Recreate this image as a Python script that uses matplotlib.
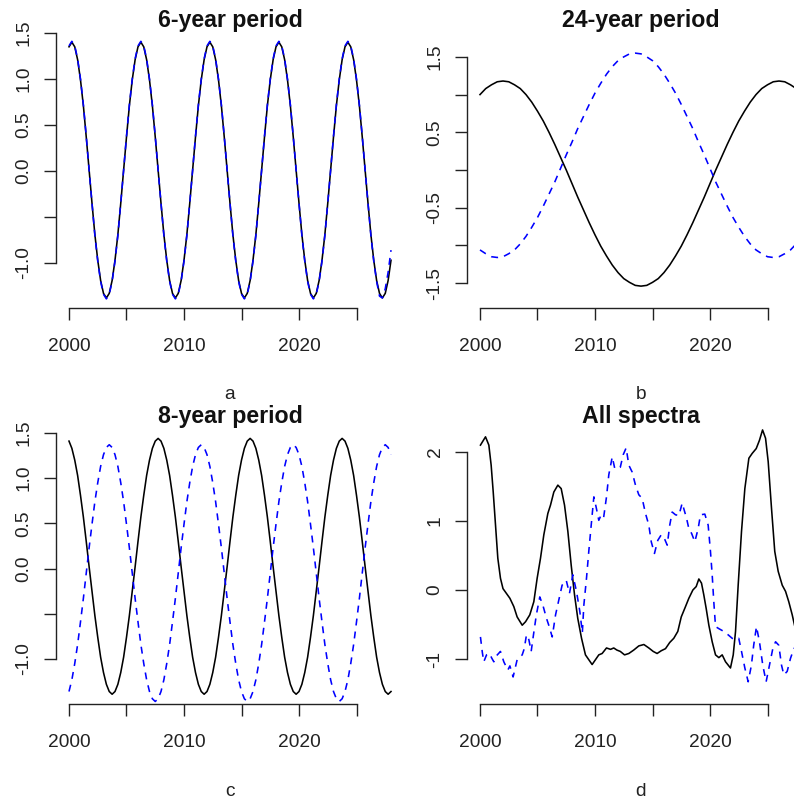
import numpy as np
import matplotlib
matplotlib.use("Agg")
import matplotlib.pyplot as plt

plt.rcParams['font.family'] = ['Liberation Sans', 'DejaVu Sans']
plt.rcParams['lines.scale_dashes'] = False

# ---------------- data ----------------
years_q = np.arange(2000, 2028.001, 0.25)   # quarterly sampling grid (panels a, c)
years_h = np.arange(2000, 2028.001, 0.5)    # half-year sampling grid (panel b)

a_black = [1.35, 1.40, 1.35, 1.21, 0.99, 0.71, 0.37, 0.01, -0.35, -0.69, -0.97, -1.19,
           -1.33, -1.38, -1.33, -1.19, -0.97, -0.69, -0.35, 0.01, 0.37, 0.71, 0.99, 1.21,
           1.35, 1.40, 1.35, 1.21, 0.99, 0.71, 0.37, 0.01, -0.35, -0.69, -0.97, -1.19,
           -1.33, -1.38, -1.33, -1.19, -0.97, -0.69, -0.35, 0.01, 0.37, 0.71, 0.99, 1.21,
           1.35, 1.40, 1.35, 1.21, 0.99, 0.71, 0.37, 0.01, -0.35, -0.69, -0.97, -1.19,
           -1.33, -1.38, -1.33, -1.19, -0.97, -0.69, -0.35, 0.01, 0.37, 0.71, 0.99, 1.21,
           1.35, 1.40, 1.35, 1.21, 0.99, 0.71, 0.37, 0.01, -0.35, -0.69, -0.97, -1.19,
           -1.33, -1.38, -1.33, -1.19, -0.97, -0.69, -0.35, 0.01, 0.37, 0.71, 0.99, 1.21,
           1.35, 1.40, 1.35, 1.21, 0.99, 0.71, 0.37, 0.01, -0.35, -0.69, -0.97, -1.19,
           -1.33, -1.38, -1.33, -1.19, -0.97]
a_blue = [1.36, 1.41, 1.36, 1.22, 1.00, 0.72, 0.38, 0.01, -0.35, -0.70, -0.98, -1.20,
          -1.34, -1.39, -1.34, -1.20, -0.98, -0.70, -0.35, 0.01, 0.38, 0.72, 1.00, 1.22,
          1.36, 1.41, 1.36, 1.22, 1.00, 0.72, 0.38, 0.01, -0.35, -0.70, -0.98, -1.20,
          -1.34, -1.39, -1.34, -1.20, -0.98, -0.70, -0.35, 0.01, 0.38, 0.72, 1.00, 1.22,
          1.36, 1.41, 1.36, 1.22, 1.00, 0.72, 0.38, 0.01, -0.35, -0.70, -0.98, -1.20,
          -1.34, -1.39, -1.34, -1.20, -0.98, -0.70, -0.35, 0.01, 0.38, 0.72, 1.00, 1.22,
          1.36, 1.41, 1.36, 1.22, 1.00, 0.72, 0.38, 0.01, -0.35, -0.70, -0.98, -1.20,
          -1.34, -1.39, -1.34, -1.20, -0.98, -0.70, -0.35, 0.01, 0.38, 0.72, 1.00, 1.22,
          1.36, 1.41, 1.36, 1.22, 1.00, 0.72, 0.38, 0.01, -0.35, -0.70, -0.98, -1.20,
          -1.36, -1.38, -1.28, -1.10, -0.86]

b_black = [1.00, 1.08, 1.13, 1.17, 1.18, 1.17, 1.13, 1.08, 1.00, 0.90, 0.78, 0.65,
           0.50, 0.34, 0.17, 0.00, -0.18, -0.36, -0.53, -0.70, -0.86, -1.01, -1.14, -1.26,
           -1.36, -1.44, -1.49, -1.53, -1.54, -1.53, -1.49, -1.44, -1.36, -1.26, -1.14, -1.01,
           -0.86, -0.70, -0.53, -0.36, -0.18, 0.00, 0.17, 0.34, 0.50, 0.65, 0.78, 0.90,
           1.00, 1.08, 1.13, 1.17, 1.18, 1.17, 1.13, 1.08, 1.00]
b_blue = [-1.06, -1.11, -1.15, -1.16, -1.15, -1.11, -1.06, -0.98, -0.88, -0.76, -0.63, -0.48,
          -0.32, -0.16, 0.02, 0.20, 0.37, 0.55, 0.71, 0.87, 1.02, 1.15, 1.27, 1.37,
          1.45, 1.50, 1.54, 1.55, 1.54, 1.50, 1.45, 1.37, 1.27, 1.15, 1.02, 0.87,
          0.71, 0.55, 0.37, 0.20, 0.02, -0.16, -0.32, -0.48, -0.63, -0.76, -0.88, -0.98,
          -1.06, -1.11, -1.15, -1.16, -1.15, -1.11, -1.06, -0.98, -0.88]

c_black = [1.41, 1.33, 1.20, 1.03, 0.81, 0.57, 0.30, 0.02, -0.25, -0.52, -0.76, -0.98,
           -1.15, -1.28, -1.36, -1.39, -1.36, -1.28, -1.15, -0.98, -0.76, -0.52, -0.25, 0.02,
           0.30, 0.57, 0.81, 1.03, 1.20, 1.33, 1.41, 1.44,
           1.41, 1.33, 1.20, 1.03, 0.81, 0.57, 0.30, 0.02, -0.25, -0.52, -0.76, -0.98,
           -1.15, -1.28, -1.36, -1.39, -1.36, -1.28, -1.15, -0.98, -0.76, -0.52, -0.25, 0.02,
           0.30, 0.57, 0.81, 1.03, 1.20, 1.33, 1.41, 1.44,
           1.41, 1.33, 1.20, 1.03, 0.81, 0.57, 0.30, 0.02, -0.25, -0.52, -0.76, -0.98,
           -1.15, -1.28, -1.36, -1.39, -1.36, -1.28, -1.15, -0.98, -0.76, -0.52, -0.25, 0.02,
           0.30, 0.57, 0.81, 1.03, 1.20, 1.33, 1.41, 1.44,
           1.41, 1.33, 1.20, 1.03, 0.81, 0.57, 0.30, 0.02, -0.25, -0.52, -0.76, -0.98,
           -1.15, -1.28, -1.36, -1.39, -1.36]
c_blue = [-1.36, -1.23, -1.05, -0.84, -0.59, -0.33, -0.05, 0.23, 0.49, 0.74, 0.95, 1.13,
          1.26, 1.34, 1.37, 1.34, 1.26, 1.13, 0.95, 0.74, 0.49, 0.23, -0.05, -0.33,
          -0.59, -0.84, -1.05, -1.23, -1.36, -1.44, -1.47, -1.44,
          -1.36, -1.23, -1.05, -0.84, -0.59, -0.33, -0.05, 0.23, 0.49, 0.74, 0.95, 1.13,
          1.26, 1.34, 1.37, 1.34, 1.26, 1.13, 0.95, 0.74, 0.49, 0.23, -0.05, -0.33,
          -0.59, -0.84, -1.05, -1.23, -1.36, -1.44, -1.47, -1.44,
          -1.36, -1.23, -1.05, -0.84, -0.59, -0.33, -0.05, 0.23, 0.49, 0.74, 0.95, 1.13,
          1.26, 1.34, 1.37, 1.34, 1.26, 1.13, 0.95, 0.74, 0.49, 0.23, -0.05, -0.33,
          -0.59, -0.84, -1.05, -1.23, -1.36, -1.44, -1.47, -1.44,
          -1.36, -1.23, -1.05, -0.84, -0.59, -0.33, -0.05, 0.23, 0.49, 0.74, 0.95, 1.13,
          1.26, 1.34, 1.37, 1.34, 1.26]

d_black_x = [2000.04, 2000.48, 2000.77, 2000.97, 2001.15, 2001.35, 2001.55, 2001.78, 2002.00,
             2002.30, 2002.60, 2002.94, 2003.23, 2003.67, 2003.96, 2004.33, 2004.68, 2004.97,
             2005.26, 2005.55, 2005.90, 2006.13, 2006.42, 2006.77, 2007.06, 2007.35, 2007.64,
             2007.93, 2008.22, 2008.50, 2008.83, 2009.17, 2009.46, 2009.75, 2010.04, 2010.33,
             2010.62, 2011.00, 2011.35, 2011.63, 2011.90, 2012.20, 2012.57, 2012.94, 2013.37,
             2013.81, 2014.25, 2014.68, 2015.06, 2015.40, 2015.76, 2016.13, 2016.50, 2016.85,
             2017.20, 2017.50, 2017.87, 2018.16, 2018.51, 2018.80, 2019.03, 2019.26, 2019.46,
             2019.67, 2019.90, 2020.19, 2020.48, 2020.77, 2021.06, 2021.35, 2021.78, 2022.02,
             2022.22, 2022.45, 2022.74, 2023.03, 2023.38, 2023.67, 2024.02, 2024.30, 2024.57,
             2024.83, 2025.06, 2025.35, 2025.63, 2025.93, 2026.28, 2026.57, 2026.85, 2027.15,
             2027.35, 2027.65, 2028.00]
d_black_y = [2.10, 2.22, 2.10, 1.81, 1.42, 0.94, 0.46, 0.17, 0.02,
             -0.05, -0.12, -0.24, -0.39, -0.51, -0.46, -0.36, -0.17, 0.17,
             0.46, 0.80, 1.11, 1.23, 1.42, 1.52, 1.47, 1.23, 0.85,
             0.36, -0.07, -0.41, -0.70, -0.94, -1.01, -1.08, -1.01, -0.94,
             -0.92, -0.84, -0.86, -0.84, -0.87, -0.89, -0.94, -0.92, -0.87,
             -0.81, -0.79, -0.84, -0.89, -0.92, -0.88, -0.85, -0.76, -0.70,
             -0.60, -0.39, -0.24, -0.12, 0.00, 0.05, 0.16, 0.10, -0.07,
             -0.27, -0.51, -0.75, -0.94, -0.98, -0.94, -1.04, -1.13, -0.94,
             -0.60, 0.07, 0.85, 1.47, 1.91, 1.98, 2.05, 2.17, 2.32,
             2.20, 1.86, 1.18, 0.56, 0.27, 0.07, -0.02, -0.17, -0.36,
             -0.51, -0.70, -0.88]

d_blue_x = [2000.04, 2000.20, 2000.33, 2000.57, 2000.85, 2001.00, 2001.20, 2001.45, 2001.78,
            2002.07, 2002.42, 2002.60, 2002.88, 2003.23, 2003.67, 2003.85, 2004.04, 2004.25,
            2004.45, 2004.65, 2004.90, 2005.20, 2005.50, 2005.78, 2006.00, 2006.28, 2006.57,
            2006.86, 2007.14, 2007.50, 2007.78, 2008.07, 2008.39, 2008.68, 2008.90, 2009.03,
            2009.26, 2009.46, 2009.67, 2009.90, 2010.10, 2010.33, 2010.54, 2010.75, 2011.00,
            2011.20, 2011.50, 2011.72, 2011.98, 2012.20, 2012.45, 2012.71, 2012.94, 2013.23,
            2013.52, 2013.81, 2014.10, 2014.39, 2014.68, 2014.89, 2015.17, 2015.46, 2015.76,
            2016.00, 2016.28, 2016.50, 2016.71, 2017.00, 2017.30, 2017.58, 2017.96, 2018.16,
            2018.40, 2018.68, 2018.97, 2019.17, 2019.55, 2019.84, 2020.04, 2020.19, 2020.33,
            2020.48, 2020.77, 2021.20, 2021.58, 2021.93, 2022.22, 2022.50, 2022.74, 2023.03,
            2023.32, 2023.60, 2023.80, 2024.04, 2024.30, 2024.59, 2024.88, 2025.17, 2025.46,
            2025.70, 2025.98, 2026.22, 2026.42, 2026.71, 2027.00, 2027.29, 2027.60, 2028.00]
d_blue_y = [-0.68, -0.90, -1.04, -0.94, -0.92, -0.98, -1.04, -0.95, -0.89,
            -1.04, -1.16, -1.10, -1.26, -1.01, -0.94, -0.85, -0.65, -0.72,
            -0.89, -0.65, -0.36, -0.10, -0.24, -0.41, -0.52, -0.68, -0.36,
            -0.14, 0.07, 0.14, -0.05, 0.22, -0.02, -0.31, -0.62, -0.22,
            0.17, 0.56, 0.94, 1.35, 1.20, 1.01, 1.09, 1.05, 1.35,
            1.67, 1.93, 1.76, 1.76, 1.78, 1.96, 2.06, 1.81, 1.71,
            1.52, 1.38, 1.33, 1.11, 0.94, 0.70, 0.53, 0.72, 0.80,
            0.76, 0.65, 0.94, 1.13, 1.09, 1.08, 1.26, 1.04, 0.89,
            0.82, 0.70, 0.89, 1.09, 1.10, 0.94, 0.56, 0.22, -0.17,
            -0.53, -0.56, -0.60, -0.65, -0.70, -0.72, -0.70, -0.89, -1.13,
            -1.33, -1.09, -0.80, -0.53, -0.75, -1.09, -1.33, -1.09, -0.85,
            -0.75, -0.80, -1.09, -1.23, -1.18, -0.99, -0.85, -0.80, -0.90]

titles = ["6-year period", "24-year period", "8-year period", "All spectra"]
sublabels = ["a", "b", "c", "d"]
x_ticks = [2000, 2005, 2010, 2015, 2020, 2025]
x_ticklabels = ["2000", "", "2010", "", "2020", ""]
y_ticks_a = [-1.0, -0.5, 0.0, 0.5, 1.0, 1.5]
y_labels_a = ["-1.0", "", "0.0", "0.5", "1.0", "1.5"]
y_ticks_b = [-1.5, -1.0, -0.5, 0.0, 0.5, 1.0, 1.5]
y_labels_b = ["-1.5", "", "-0.5", "", "0.5", "", "1.5"]
y_ticks_d = [-1, 0, 1, 2]
y_labels_d = ["-1", "0", "1", "2"]

# ---------------- figure ----------------
W, H = 794, 799
fig = plt.figure(figsize=(W / 100, H / 100), dpi=100)
fig.patch.set_facecolor("white")

cols = [(56, 404), (467, 815)]
rows = [(32, 308), (428, 704)]
FS = 13.8
TFS = 16.7

def make_ax(col, row):
    x0, x1 = cols[col]
    y0, y1 = rows[row]
    return fig.add_axes([x0 / W, 1 - y1 / H, (x1 - x0) / W, (y1 - y0) / H])

panels = [
    dict(col=0, row=0, x1=years_q, y1=a_black, x2=years_q, y2=a_blue,
         ylim=(-1.489, 1.511), yt=y_ticks_a, yl=y_labels_a, yb=(-1.0, 1.5)),
    dict(col=1, row=0, x1=years_h, y1=b_black, x2=years_h, y2=b_blue,
         ylim=(-1.83, 1.83), yt=y_ticks_b, yl=y_labels_b, yb=(-1.5, 1.5)),
    dict(col=0, row=1, x1=years_q, y1=c_black, x2=years_q, y2=c_blue,
         ylim=(-1.498, 1.555), yt=y_ticks_a, yl=y_labels_a, yb=(-1.0, 1.5)),
    dict(col=1, row=1, x1=d_black_x, y1=d_black_y, x2=d_blue_x, y2=d_blue_y,
         ylim=(-1.652, 2.348), yt=y_ticks_d, yl=y_labels_d, yb=(-1, 2)),
]

for i, p in enumerate(panels):
    ax = make_ax(p["col"], p["row"])
    ax.plot(p["x1"], p["y1"], color="black", lw=1.15, solid_joinstyle="round")
    ax.plot(p["x2"], p["y2"], color="#0000ff", lw=1.15, dashes=(5.0, 4.4),
            dash_capstyle="butt")
    ax.set_xlim(1998.87, 2029.13)
    ax.set_ylim(*p["ylim"])
    for s in ["top", "right"]:
        ax.spines[s].set_visible(False)
    for s in ["left", "bottom"]:
        ax.spines[s].set_linewidth(1.0)
        ax.spines[s].set_color("#222222")
    ax.spines["bottom"].set_bounds(2000, 2025)
    ax.spines["left"].set_bounds(*p["yb"])
    ax.set_xticks(x_ticks)
    ax.set_xticklabels(x_ticklabels)
    ax.set_yticks(p["yt"])
    ax.set_yticklabels(p["yl"], rotation=90, va="center")
    ax.tick_params(axis="both", direction="out", length=8.3, width=1.0,
                   color="#222222", labelsize=FS, labelcolor="#222222")
    ax.tick_params(axis="x", pad=13)
    ax.tick_params(axis="y", pad=8.6)
    ax.set_title(titles[i], fontsize=TFS, fontweight="bold", pad=0, color="#111111")
    x0, x1 = cols[p["col"]]
    cx = (x0 + x1) / 2
    base = 399 if p["row"] == 0 else 795.5
    fig.text(cx / W, 1 - base / H, sublabels[i], ha="center", va="baseline",
             fontsize=FS, color="#222222")

fig.savefig("out.png", dpi=100, facecolor="white")
